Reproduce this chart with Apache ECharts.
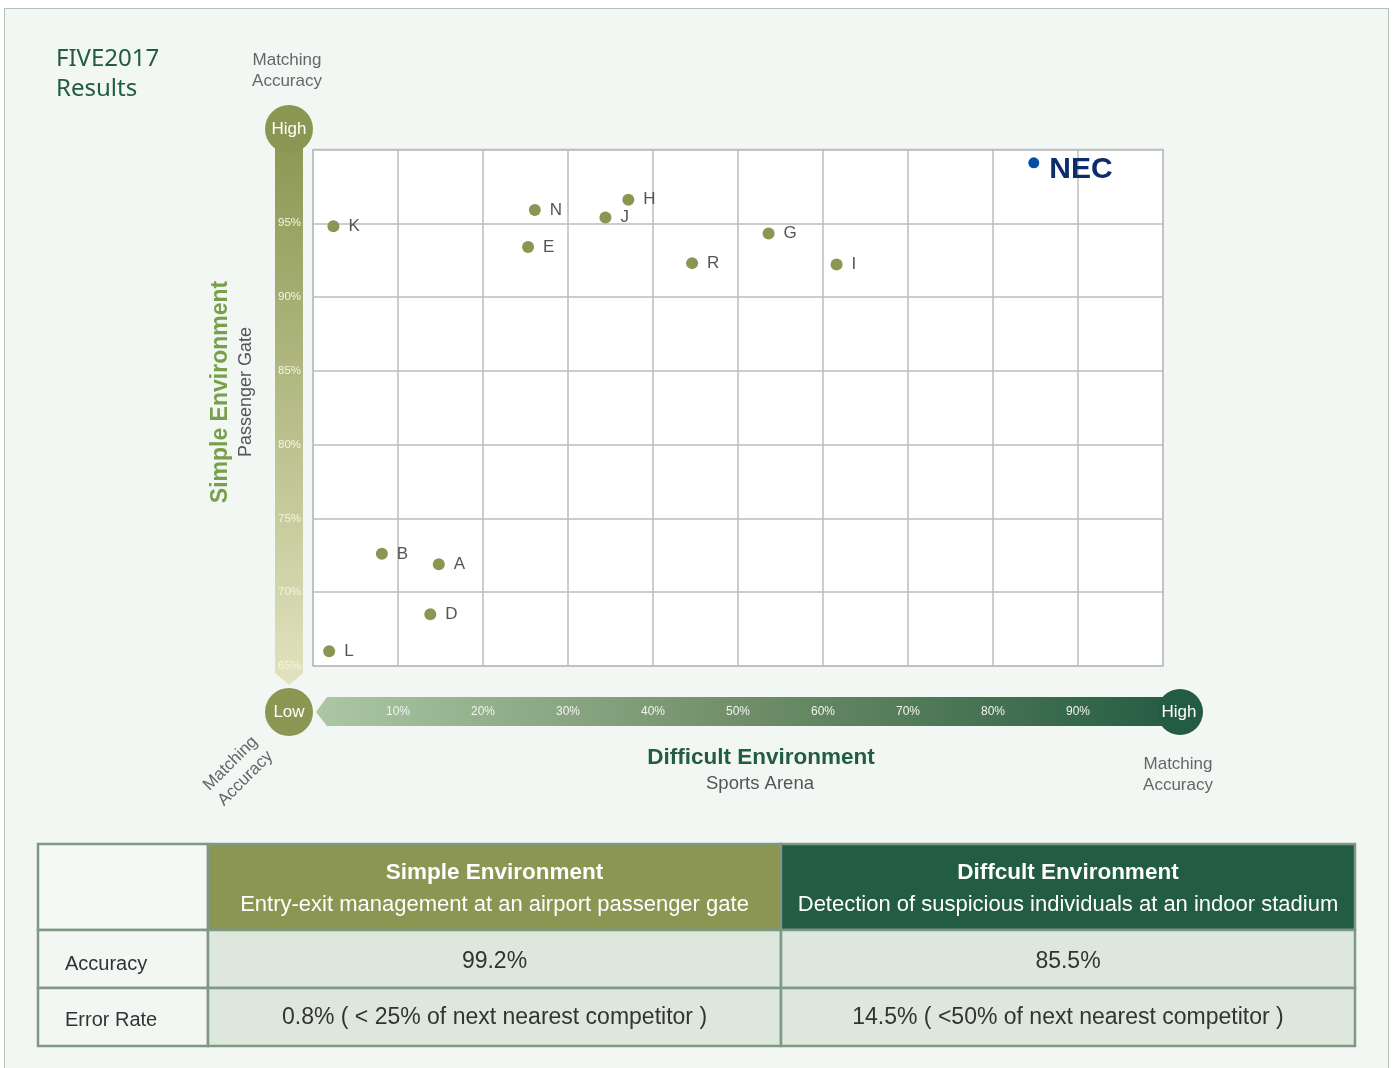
<!DOCTYPE html>
<html>
<head>
<meta charset="utf-8">
<script src="https://cdn.jsdelivr.net/npm/echarts@6/dist/echarts.min.js"></script>
<style>
  html, body { margin:0; padding:0; background:#ffffff; }
  #frame { position:absolute; left:4px; top:8px; width:1385px; height:1080px; background:#f3f7f4; border:1.5px solid #b3c2b6; box-sizing:border-box; }
  #chart { position:absolute; left:0; top:0; width:1393px; height:1068px; }
</style>
</head>
<body>
<div id="frame"></div>
<div id="chart"></div>
<script>
// ---- data ----
const vendorNames = ['K', 'N', 'E', 'J', 'H', 'R', 'G', 'I', 'B', 'A', 'D', 'L'];
const difficultAccuracy = [2.4, 26.1, 25.3, 34.4, 37.1, 44.6, 53.6, 61.6, 8.1, 14.8, 13.8, 1.9];
const simpleAccuracy   = [94.8, 95.9, 93.4, 95.4, 96.6, 92.3, 94.3, 92.2, 72.6, 71.9, 68.5, 66.0];
const necName = 'NEC';
const necDifficult = 84.8;
const necSimple = 99.1;
const xTickLabels = ['', '10%', '20%', '30%', '40%', '50%', '60%', '70%', '80%', '90%', ''];
const yTickLabels = ['65%', '70%', '75%', '80%', '85%', '90%', '95%', ''];

const tableRowLabels = ['Accuracy', 'Error Rate'];
const tableHeaders = [
  ['Simple Environment', 'Entry-exit management at an airport passenger gate'],
  ['Diffcult Environment', 'Detection of suspicious individuals at an indoor stadium']
];
const tableSimple = ['99.2%', '0.8% ( < 25% of next nearest competitor )'];
const tableDifficult = ['85.5%', '14.5% ( <50% of next nearest competitor )'];

// ---- chart ----
const FONT = '"Liberation Sans", Arial, Helvetica, sans-serif';
const chart = echarts.init(document.getElementById('chart'), null, {renderer: 'canvas'});

const olive = '#8a9651';
const darkGreen = '#235c42';

const graphics = [];

// title
graphics.push({type:'text', left:56, top:44, z:5, style:{text:'FIVE2017\nResults', font:'24px "Noto Sans", "Open Sans", sans-serif', fill:'#225c44', lineHeight:30}});
// top "Matching Accuracy"
graphics.push({type:'text', x:287, y:71, z:5, style:{text:'Matching\nAccuracy', font:'17px ' + FONT, fill:'#666666', lineHeight:21, textAlign:'center', textVerticalAlign:'middle'}});

// vertical gradient bar
graphics.push({type:'polygon', z:1, shape:{points:[[275,129],[303,129],[303,673],[289,685],[275,673]]},
  style:{fill:new echarts.graphic.LinearGradient(0,0,0,1,[{offset:0,color:'#8a9651'},{offset:1,color:'#e1e3be'}])}});
graphics.push({type:'circle', z:2, shape:{cx:289, cy:129, r:24}, style:{fill:olive}});
graphics.push({type:'text', x:289, y:129.5, z:3, style:{text:'High', font:'17px ' + FONT, fill:'#ffffff', textAlign:'center', textVerticalAlign:'middle'}});

// horizontal gradient bar
graphics.push({type:'polygon', z:1, shape:{points:[[316,712],[327,697],[1180,697],[1180,726],[327,726]]},
  style:{fill:new echarts.graphic.LinearGradient(0,0,1,0,[{offset:0,color:'#abc7a4'},{offset:0.5,color:'#6f8e68'},{offset:1,color:'#245c42'}])}});
graphics.push({type:'circle', z:2, shape:{cx:289, cy:712, r:24}, style:{fill:olive}});
graphics.push({type:'text', x:289, y:712.5, z:3, style:{text:'Low', font:'17px ' + FONT, fill:'#ffffff', textAlign:'center', textVerticalAlign:'middle'}});
graphics.push({type:'circle', z:2, shape:{cx:1180, cy:712, r:23}, style:{fill:darkGreen}});
graphics.push({type:'text', x:1179, y:712.5, z:3, style:{text:'High', font:'17px ' + FONT, fill:'#ffffff', textAlign:'center', textVerticalAlign:'middle'}});

// axis titles
graphics.push({type:'text', x:221, y:392, rotation:Math.PI/2, z:5, style:{text:'Simple Environment', font:'bold 23px ' + FONT, fill:'#77a04b', textAlign:'center', textVerticalAlign:'middle'}});
graphics.push({type:'text', x:246, y:392, rotation:Math.PI/2, z:5, style:{text:'Passenger Gate', font:'18px ' + FONT, fill:'#555555', textAlign:'center', textVerticalAlign:'middle'}});
graphics.push({type:'text', x:238, y:771, rotation:Math.PI/4, z:5, style:{text:'Matching\nAccuracy', font:'17px ' + FONT, fill:'#666666', lineHeight:21, textAlign:'center', textVerticalAlign:'middle'}});
graphics.push({type:'text', x:761, y:758, z:5, style:{text:'Difficult Environment', font:'bold 22.5px ' + FONT, fill:'#225c44', textAlign:'center', textVerticalAlign:'middle'}});
graphics.push({type:'text', x:760, y:784, z:5, style:{text:'Sports Arena', font:'18.5px ' + FONT, fill:'#555555', textAlign:'center', textVerticalAlign:'middle'}});
graphics.push({type:'text', x:1178, y:775, z:5, style:{text:'Matching\nAccuracy', font:'17px ' + FONT, fill:'#666666', lineHeight:21, textAlign:'center', textVerticalAlign:'middle'}});

// table
const colX = [38, 208, 781, 1355];
const rowY = [844, 930, 988, 1046];
const stroke = '#7f9886';
function cell(x0, y0, x1, y1, fill) {
  graphics.push({type:'rect', z:1, shape:{x:x0, y:y0, width:x1-x0, height:y1-y0}, style:{fill:fill, stroke:stroke, lineWidth:2.5}});
}
cell(colX[0], rowY[0], colX[1], rowY[1], '#f5f9f5');
cell(colX[1], rowY[0], colX[2], rowY[1], '#8a9651');
cell(colX[2], rowY[0], colX[3], rowY[1], '#225c42');
for (let r = 0; r < 2; r++) {
  cell(colX[0], rowY[r+1], colX[1], rowY[r+2], '#f3f7f3');
  cell(colX[1], rowY[r+1], colX[2], rowY[r+2], '#dde7dc');
  cell(colX[2], rowY[r+1], colX[3], rowY[r+2], '#dde7dc');
}
for (let c = 0; c < 2; c++) {
  const cx = (colX[c+1] + colX[c+2]) / 2;
  graphics.push({type:'text', x:cx, y:873, z:3, style:{text:tableHeaders[c][0], font:'bold 22.5px ' + FONT, fill:'#ffffff', textAlign:'center', textVerticalAlign:'middle'}});
  graphics.push({type:'text', x:cx, y:905, z:3, style:{text:tableHeaders[c][1], font:'22px ' + FONT, fill:'#ffffff', textAlign:'center', textVerticalAlign:'middle'}});
}
const rowTextY = [964, 1020];
for (let r = 0; r < 2; r++) {
  graphics.push({type:'text', x:65, y:rowTextY[r], z:3, style:{text:tableRowLabels[r], font:'20px ' + FONT, fill:'#333333', textAlign:'left', textVerticalAlign:'middle'}});
  graphics.push({type:'text', x:(colX[1]+colX[2])/2, y:rowTextY[r]-2, z:3, style:{text:tableSimple[r], font:'23px ' + FONT, fill:'#333333', textAlign:'center', textVerticalAlign:'middle'}});
  graphics.push({type:'text', x:(colX[2]+colX[3])/2, y:rowTextY[r]-2, z:3, style:{text:tableDifficult[r], font:'23px ' + FONT, fill:'#333333', textAlign:'center', textVerticalAlign:'middle'}});
}

const vendorData = vendorNames.map((n, i) => ({name:n, value:[difficultAccuracy[i], simpleAccuracy[i]]}));

chart.setOption({
  backgroundColor: 'transparent',
  animation: false,
  textStyle: {fontFamily: FONT},
  grid: {left:313, top:149.5, width:850, height:516.5, show:true, backgroundColor:'#ffffff', borderColor:'#bdbdbd', borderWidth:1.5},
  xAxis: {
    type:'value', min:0, max:100, interval:10, z:10,
    axisLine:{show:false}, axisTick:{show:false},
    splitLine:{show:true, lineStyle:{color:'#bdbdbd', width:1.5}},
    axisLabel:{margin:40, fontSize:12, color:'#f1f5ee', formatter:(v)=>xTickLabels[Math.round(v/10)], showMinLabel:true, showMaxLabel:true}
  },
  yAxis: {
    type:'value', min:65, max:100, interval:5, z:10,
    axisLine:{show:false}, axisTick:{show:false},
    splitLine:{show:true, lineStyle:{color:'#bdbdbd', width:1.5}},
    axisLabel:{margin:12, fontSize:11.5, padding:[5,0,0,0], color:'#f4f5e6', formatter:(v)=>yTickLabels[Math.round((v-65)/5)]}
  },
  graphic: graphics,
  series: [
    {
      type:'scatter', symbolSize:12, data:vendorData, z:12,
      itemStyle:{color:olive, opacity:1},
      label:{show:true, position:'right', distance:9, formatter:'{b}', fontSize:17, color:'#555555', fontFamily:FONT}
    },
    {
      type:'scatter', symbolSize:11, data:[{name:necName, value:[necDifficult, necSimple]}], z:12,
      itemStyle:{color:'#0050a8', opacity:1},
      label:{show:true, position:'right', distance:10, offset:[0,7], formatter:'{b}', fontSize:30, fontWeight:'bold', color:'#0b2d6b', fontFamily:FONT}
    }
  ]
});
</script>
</body>
</html>
